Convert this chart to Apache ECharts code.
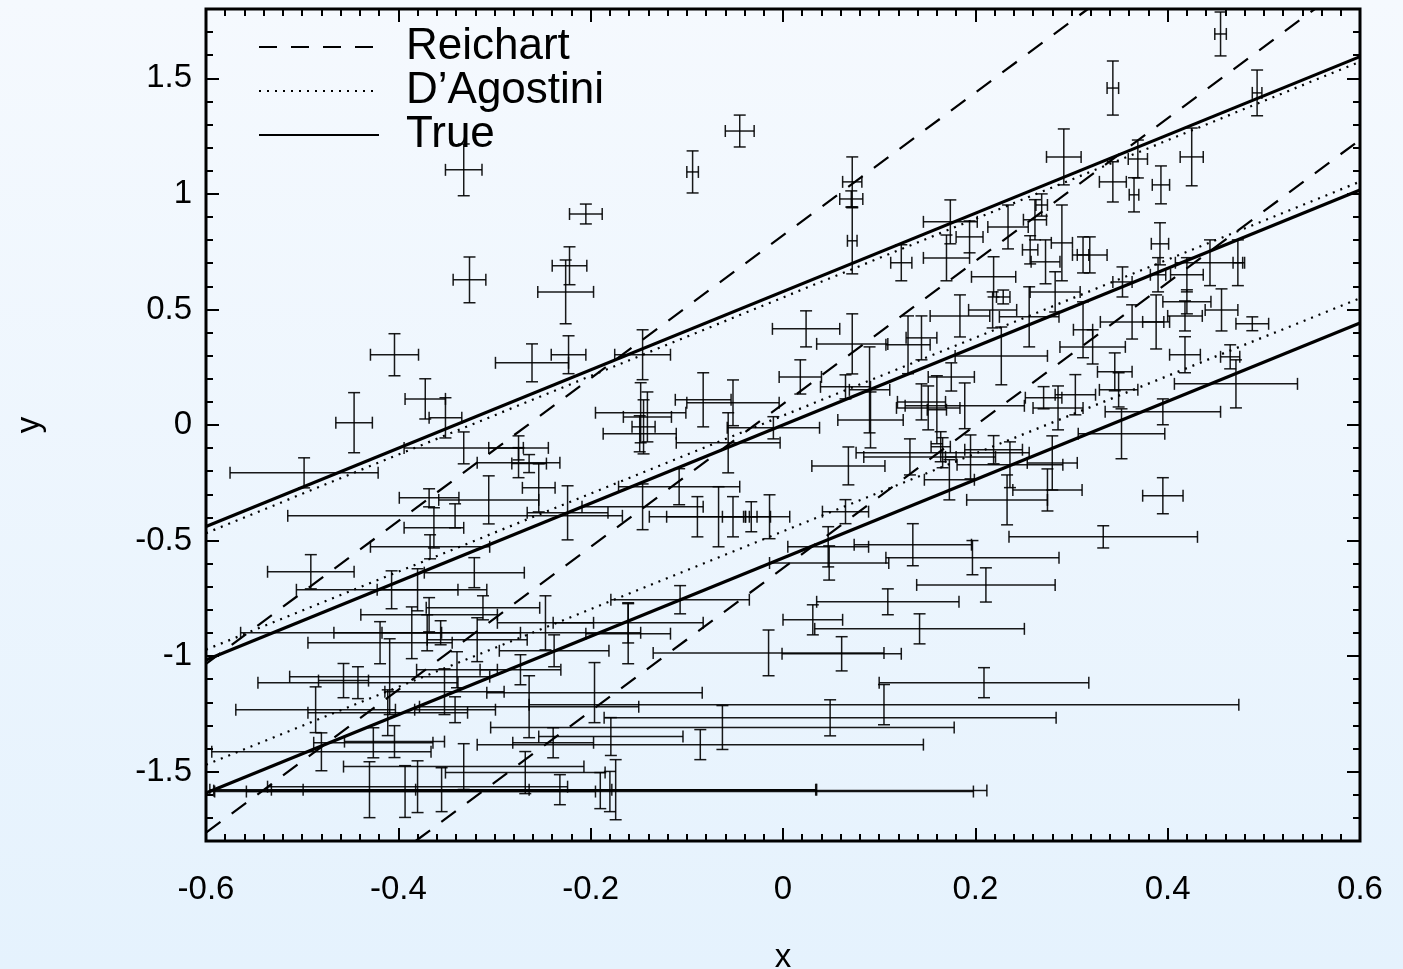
<!DOCTYPE html>
<html>
<head>
<meta charset="utf-8">
<script src="https://cdn.jsdelivr.net/npm/echarts@6/dist/echarts.min.js"></script>
<style>
  html, body { margin: 0; padding: 0; }
  #chart { width: 1403px; height: 969px; }
</style>
</head>
<body>
<div id="chart"></div>
<script>
// measured points: x, y and their 1-sigma errors
let pointX = [
    -0.332, -0.326, -0.045, -0.094, -0.205, -0.222, -0.226, 0.455, 0.343, 0.493,
    0.292, 0.369, 0.425, 0.343, 0.365, 0.393, 0.072, 0.071, 0.072, 0.174,
    0.194, 0.234, 0.170, 0.123, 0.219, 0.269, 0.262, 0.290, 0.392, 0.319,
    0.312, 0.390, 0.444, 0.473, 0.420, 0.353, 0.273, 0.257,
    -0.404, -0.372, -0.351, -0.446, -0.498, -0.332, -0.261, -0.223, -0.146, -0.083,
    -0.052, -0.148, -0.141, -0.145, -0.149, -0.057, -0.010, -0.275, -0.264, -0.275,
    -0.368, -0.306, -0.341, -0.254, -0.224, -0.146, -0.108, -0.089, -0.067, -0.052,
    -0.033, -0.014, -0.367, -0.363,
    0.024, 0.072, 0.018, 0.065, 0.090, 0.091, 0.184, 0.130, 0.144, 0.227,
    0.256, 0.218, 0.229, 0.283, 0.175, 0.144, 0.151, 0.189, 0.160, 0.164,
    0.166, 0.132, 0.068, 0.195, 0.219, 0.236, 0.173, 0.233, 0.275, 0.280,
    0.271, 0.286, 0.135, 0.197, 0.047, 0.065, 0.456, 0.488, 0.418, 0.418,
    0.420, 0.465, 0.471, 0.395, 0.352, 0.395, 0.333, 0.345, 0.349, 0.363,
    0.388, 0.322, 0.312, 0.304,
    -0.491, -0.321, -0.407, -0.380, -0.368, -0.386, -0.419, -0.312, -0.318, -0.370,
    -0.356, -0.457, -0.442, -0.409, -0.486, -0.480, -0.426, -0.404, -0.352, -0.341,
    -0.411, -0.430, -0.393, -0.380, -0.355, -0.332, -0.339, -0.107, -0.161, -0.161,
    -0.015, -0.238, -0.247, -0.273, -0.196, -0.264, -0.179, -0.063, -0.239, -0.268,
    -0.174, 0.048, 0.211, 0.109, 0.031, 0.142, 0.061, 0.209, 0.105, 0.049,
    -0.086, -0.232, -0.180, -0.190
];
let pointY = [
    1.104, 0.628, 1.272, 1.095, 0.913, 0.689, 0.576, 1.692, 1.458, 1.437,
    1.160, 1.151, 1.160, 1.052, 0.996, 1.039, 1.052, 0.978, 0.797, 0.879,
    0.814, 0.857, 0.723, 0.702, 0.641, 0.952, 0.888, 0.788, 0.784, 0.736,
    0.736, 0.650, 0.702, 0.702, 0.650, 0.619, 0.706, 0.758,
    0.304, 0.113, 0.031, 0.010, -0.207, -0.099, 0.269, 0.304, 0.304, 0.109,
    0.096, 0.053, 0.035, -0.008, -0.038, -0.077, -0.012, -0.163, -0.167, -0.099,
    -0.315, -0.324, -0.393, -0.272, -0.380, -0.354, -0.267, -0.397, -0.397, -0.397,
    -0.397, -0.397, -0.527, -0.445,
    0.416, 0.351, 0.208, 0.165, 0.152, 0.022, 0.472, 0.347, 0.377, 0.299,
    0.468, 0.498, 0.554, 0.576, 0.208, 0.100, 0.074, 0.083, 0.066, -0.094,
    -0.120, -0.138, -0.177, -0.138, -0.107, -0.172, -0.237, -0.324, -0.281, -0.164,
    0.118, 0.074, -0.518, -0.574, -0.527, -0.375, 0.498, 0.438, 0.304, 0.472,
    0.533, 0.295, 0.178, 0.057, -0.038, -0.306, -0.484, 0.230, 0.152, 0.446,
    0.446, 0.338, 0.412, 0.131,
    -0.635, -0.639, -0.713, -0.713, -0.821, -0.899, -0.942, -0.791, -0.929, -0.899,
    -0.899, -1.106, -1.115, -1.089, -1.232, -1.414, -1.375, -1.370, -1.154, -1.232,
    -1.245, -1.578, -1.586, -1.565, -1.578, -1.478, -1.059, -0.756, -0.856, -0.903,
    -0.986, -0.977, -0.856, -1.059, -1.158, -1.219, -1.348, -1.309, -1.375, -1.504,
    -1.578, -0.597, -0.692, -0.765, -0.843, -0.882, -0.990, -1.115, -1.210, -1.267,
    -1.383, -1.578, -1.586, -1.582
];
let sigmaX = [
    .019, .017, .015, .006, .017, .018, .029, .006, .006, .005,
    .018, .010, .012, .014, .005, .009, .010, .012, .005, .028,
    .014, .021, .024, .011, .023, .006, .012, .011, .009, .018,
    .006, .008, .036, .005, .017, .010, .015, .008,
    .025, .021, .017, .019, .077, .062, .038, .018, .029, .029,
    .048, .047, .025, .012, .038, .054, .048, .043, .018, .031,
    .031, .052, .174, .017, .042, .063, .063, .050, .054, .011,
    .006, .021, .062, .031,
    .035, .037, .022, .026, .021, .034, .031, .023, .016, .048,
    .031, .025, .007, .026, .024, .025, .033, .062, .010, .010,
    .090, .048, .038, .026, .030, .055, .026, .042, .036, .026,
    .019, .026, .061, .090, .042, .024, .017, .017, .016, .018,
    .025, .010, .064, .060, .045, .021, .098, .018, .020, .033,
    .014, .034, .010, .021,
    .045, .052, .099, .042, .071, .031, .075, .059, .052, .097,
    .208, .026, .104, .104, .083, .114, .062, .052, .062, .042,
    .083, .166, .198, .156, .177, .125, .042, .072, .078, .044,
    .120, .057, .050, .042, .112, .114, .075, .241, .042, .083,
    .208, .062, .072, .074, .031, .109, .062, .109, .369, .235,
    .232, .267, .378, .402
];
let sigmaY = [
    .112, .099, .069, .091, .043, .082, .138, .095, .117, .099,
    .121, .082, .125, .087, .074, .082, .108, .035, .143, .095,
    .069, .095, .099, .078, .087, .048, .087, .164, .091, .078,
    .078, .074, .099, .099, .074, .065, .095, .061,
    .091, .087, .087, .130, .065, .069, .082, .082, .108, .117,
    .099, .130, .108, .117, .078, .130, .048, .065, .039, .052,
    .039, .104, .052, .104, .117, .099, .078, .087, .130, .087,
    .065, .095, .052, .087,
    .078, .130, .074, .052, .186, .121, .091, .125, .095, .125,
    .130, .078, .030, .087, .061, .078, .095, .099, .147, .065,
    .065, .078, .082, .095, .061, .099, .087, .108, .091, .117,
    .048, .095, .091, .074, .087, .052, .091, .030, .078, .065,
    .052, .052, .104, .056, .108, .078, .048, .082, .074, .074,
    .117, .074, .121, .087,
    .074, .065, .082, .091, .074, .112, .091, .052, .095, .078,
    .052, .074, .069, .164, .099, .082, .065, .069, .099, .056,
    .099, .121, .112, .112, .095, .099, .078, .061, .087, .130,
    .099, .069, .117, .065, .130, .134, .082, .095, .065, .091,
    .130, .074, .074, .056, .065, .065, .074, .065, .087, .078,
    .065, .065, .087, .078
];

// fitted lines, end points (centre, +sigma, -sigma)
let reichartLines = [
    [[-0.6, -1.034], [0.317, 1.8]],
    [[-0.6, -1.764], [0.553, 1.8]],
    [[-0.382, -1.8], [0.6, 1.234]]
];
let agostiniLines = [
    [[-0.6, -0.468], [0.6, 1.572]],
    [[-0.6, -0.972], [0.6, 1.053]],
    [[-0.6, -1.470], [0.6, 0.549]]
];
let trueLines = [
    [[-0.6, -0.439], [0.6, 1.594]],
    [[-0.6, -1.017], [0.6, 1.017]],
    [[-0.6, -1.592], [0.6, 0.441]]
];

let yMajor = [-1.5, -1, -0.5, 0, 0.5, 1, 1.5];

const FONT = 'Liberation Sans, Arial, Helvetica, sans-serif';

function renderErr(params, api) {
    let x = api.value(0), y = api.value(1), ex = api.value(2), ey = api.value(3);
    let l = api.coord([x - ex, y]);
    let r = api.coord([x + ex, y]);
    let t = api.coord([x, y + ey]);
    let b = api.coord([x, y - ey]);
    let cap = 6;
    let style = { stroke: '#000', lineWidth: 1.5, opacity: 0.9 };
    let seg = (x1, y1, x2, y2) => ({ type: 'line', shape: { x1, y1, x2, y2 }, style });
    return {
        type: 'group',
        children: [
            seg(l[0], l[1], r[0], r[1]),
            seg(t[0], t[1], b[0], b[1]),
            seg(l[0], l[1] - cap, l[0], l[1] + cap),
            seg(r[0], r[1] - cap, r[0], r[1] + cap),
            seg(t[0] - cap, t[1], t[0] + cap, t[1]),
            seg(b[0] - cap, b[1], b[0] + cap, b[1])
        ]
    };
}

function lineSeries(name, pts, width, dash) {
    return {
        name: name,
        type: 'line',
        data: pts,
        symbol: 'none',
        clip: true,
        silent: true,
        z: 3,
        lineStyle: { color: '#000', width: width, type: dash, cap: 'butt' },
        itemStyle: { color: '#000' }
    };
}

let series = [];
reichartLines.forEach(p => series.push(lineSeries('Reichart', p, 2.2, [18, 14])));
agostiniLines.forEach(p => series.push(lineSeries('D’Agostini', p, 2.2, [2, 6])));
trueLines.forEach(p => series.push(lineSeries('True', p, 3.2, 'solid')));

series.push({
    type: 'custom',
    renderItem: renderErr,
    clip: true,
    silent: true,
    z: 2,
    data: pointX.map((x, i) => [x, pointY[i], sigmaX[i], sigmaY[i]])
});

let tickStyle = { color: '#000', width: 2 };

function xAx(pos, labels) {
    return {
        type: 'value', position: pos, min: -0.6, max: 0.6, interval: 0.2,
        axisLine: { show: false, onZero: false },
        axisTick: { show: true, inside: true, length: 13, lineStyle: tickStyle },
        minorTick: { show: true, splitNumber: 10, length: 7, lineStyle: tickStyle },
        splitLine: { show: false },
        axisLabel: {
            show: labels, margin: 32, color: '#000', fontSize: 33, fontFamily: FONT,
            formatter: v => String(+v.toFixed(1))
        },
        name: labels ? 'x' : '', nameLocation: 'middle', nameGap: 100,
        nameTextStyle: { color: '#000', fontSize: 33, fontFamily: FONT }
    };
}

function yMinor(pos) {
    return {
        type: 'value', position: pos, min: -1.8, max: 1.8, interval: 0.1,
        axisLine: { show: false, onZero: false },
        axisTick: { show: true, inside: true, length: 7, lineStyle: tickStyle },
        splitLine: { show: false },
        axisLabel: { show: false }
    };
}

function yMajorAx(pos, labels) {
    return {
        type: 'value', position: pos, min: -1.8, max: 1.8,
        axisLine: { show: false, onZero: false },
        axisTick: { show: true, inside: true, length: 13, lineStyle: tickStyle, customValues: yMajor },
        splitLine: { show: false },
        axisLabel: {
            show: labels, customValues: yMajor, margin: 14, color: '#000',
            fontSize: 33, fontFamily: FONT, formatter: v => String(v)
        },
        name: labels ? 'y' : '', nameLocation: 'middle', nameGap: 160, nameRotate: 90,
        nameTextStyle: { color: '#000', fontSize: 33, fontFamily: FONT }
    };
}

let option = {
    animation: false,
    backgroundColor: {
        type: 'linear', x: 0, y: 0, x2: 0, y2: 1,
        colorStops: [{ offset: 0, color: '#f5f9fe' }, { offset: 1, color: '#e5f2fd' }]
    },
    grid: {
        left: 206, right: 43, top: 9, bottom: 128,
        outerBoundsMode: 'none', containLabel: false,
        show: true, borderColor: '#000', borderWidth: 3, backgroundColor: 'transparent'
    },
    legend: {
        orient: 'vertical', left: 258, top: 25, padding: 0, itemGap: 0,
        itemWidth: 120, itemHeight: 20,
        itemStyle: { opacity: 0 },
        data: ['Reichart', 'D’Agostini', 'True'],
        textStyle: { color: '#000', fontSize: 44, fontFamily: FONT, lineHeight: 44, padding: [0, 0, 0, 22] }
    },
    xAxis: [xAx('bottom', true), xAx('top', false)],
    yAxis: [yMinor('left'), yMajorAx('left', true), yMinor('right'), yMajorAx('right', false)],
    series: series
};

echarts.init(document.getElementById('chart')).setOption(option);
</script>
</body>
</html>
